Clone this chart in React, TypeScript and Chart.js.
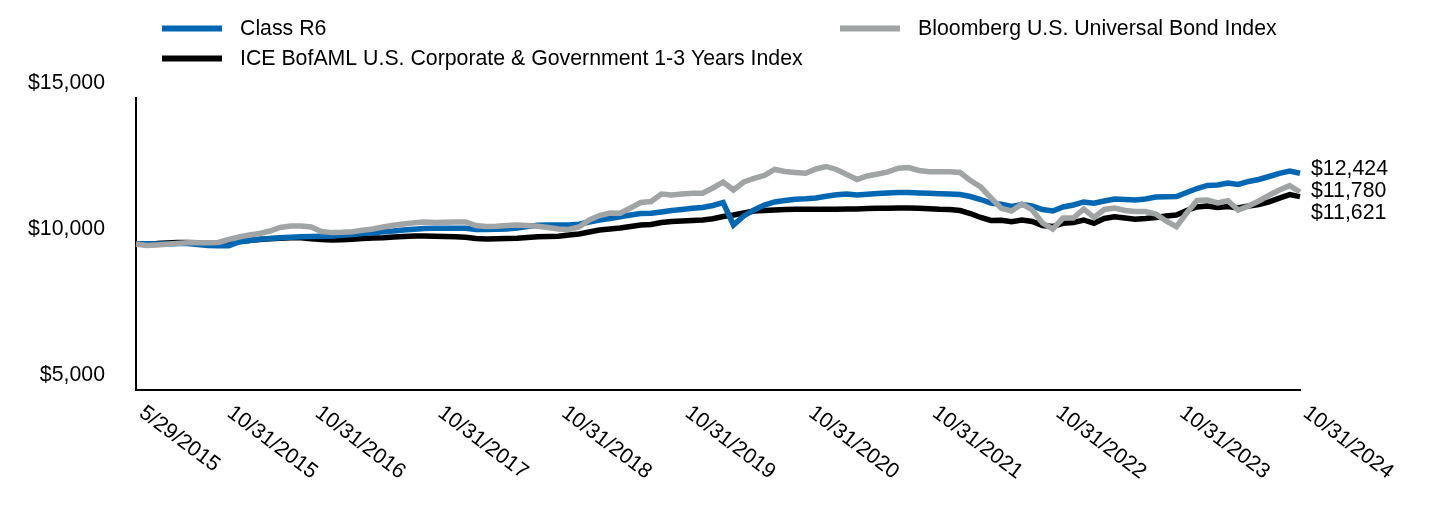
import React, { useEffect, useRef } from 'react';
import { Chart, registerables } from 'chart.js';

Chart.register(...registerables);

// ---------- DATA ----------
const firstCategory = '5/29/2015';
const categories: string[] = (() => {
  const out = [firstCategory];
  let y = 2015;
  let m = 6;
  while (y < 2024 || (y === 2024 && m <= 10)) {
    const last = new Date(y, m, 0).getDate();
    out.push(`${m}/${last}/${y}`);
    m++;
    if (m > 12) { m = 1; y++; }
  }
  return out;
})();

const xTickLabels = [
  '5/29/2015', '10/31/2015', '10/31/2016', '10/31/2017', '10/31/2018', '10/31/2019',
  '10/31/2020', '10/31/2021', '10/31/2022', '10/31/2023', '10/31/2024',
];

const yTickValues = [5000, 10000, 15000];

const classR6 = [
  10000, 10010, 10000, 10000, 10017, 10017, 9983, 9949, 9942, 9942,
  10069, 10120, 10161, 10188, 10212, 10233, 10247, 10257, 10267, 10274,
  10298, 10325, 10360, 10384, 10421, 10445, 10480, 10507, 10531, 10538,
  10538, 10538, 10538, 10497, 10497, 10503, 10514, 10548, 10599, 10640,
  10651, 10651, 10651, 10675, 10754, 10822, 10873, 10935, 10993, 11045,
  11051, 11096, 11147, 11182, 11223, 11250, 11319, 11421, 10651, 10959,
  11165, 11336, 11439, 11490, 11531, 11548, 11576, 11634, 11685, 11713,
  11678, 11706, 11730, 11747, 11764, 11764, 11747, 11737, 11723, 11713,
  11695, 11627, 11524, 11404, 11360, 11284, 11353, 11302, 11182, 11130,
  11267, 11336, 11439, 11394, 11473, 11541, 11524, 11507, 11541, 11610,
  11620, 11627, 11764, 11901, 12004, 12021, 12090, 12038, 12141, 12209,
  12312, 12420, 12500, 12424,
];

const iceIndex = [
  10000, 10010, 10017, 10034, 10051, 10051, 10045, 10034, 10045, 10069,
  10086, 10120, 10154, 10182, 10199, 10216, 10212, 10178, 10154, 10137,
  10144, 10164, 10188, 10206, 10216, 10240, 10257, 10274, 10274, 10264,
  10257, 10250, 10230, 10188, 10171, 10178, 10188, 10195, 10223, 10247,
  10257, 10267, 10308, 10343, 10411, 10480, 10514, 10548, 10599, 10651,
  10668, 10736, 10771, 10788, 10805, 10822, 10867, 10942, 10993, 11062,
  11130, 11147, 11165, 11182, 11189, 11189, 11189, 11192, 11192, 11199,
  11199, 11213, 11223, 11226, 11233, 11233, 11223, 11206, 11189, 11182,
  11147, 11045, 10908, 10805, 10812, 10764, 10822, 10771, 10634, 10599,
  10709, 10736, 10822, 10709, 10873, 10935, 10890, 10846, 10873, 10908,
  10959, 10993, 11147, 11267, 11302, 11250, 11284, 11233, 11302, 11353,
  11440, 11570, 11690, 11621,
];

const bloombergIndex = [
  10000, 9949, 9966, 9990, 10017, 10041, 10045, 10045, 10051, 10154,
  10240, 10308, 10360, 10445, 10565, 10617, 10617, 10582, 10430, 10390,
  10400, 10418, 10470, 10514, 10582, 10640, 10685, 10726, 10754, 10736,
  10743, 10754, 10754, 10634, 10599, 10606, 10634, 10651, 10634, 10606,
  10565, 10514, 10497, 10582, 10822, 10976, 11062, 11051, 11233, 11421,
  11456, 11713, 11678, 11713, 11737, 11737, 11918, 12124, 11850, 12124,
  12244, 12346, 12552, 12483, 12449, 12422, 12569, 12655, 12552, 12381,
  12210, 12330, 12398, 12467, 12593, 12620, 12518, 12477, 12477, 12477,
  12449, 12175, 11952, 11576, 11223, 11130, 11370, 11165, 10719, 10514,
  10890, 10890, 11199, 10908, 11182, 11233, 11147, 11113, 11113, 11028,
  10788, 10593, 11062, 11490, 11507, 11404, 11483, 11165, 11302, 11473,
  11670, 11850, 12000, 11780,
];

const seriesNames = [
  'Class R6',
  'ICE BofAML U.S. Corporate & Government 1-3 Years Index',
  'Bloomberg U.S. Universal Bond Index',
];

// ---------- STYLE ----------
const BLUE = '#0068B3';
const BLACK = '#000000';
const GRAY = '#A0A4A4';
const FONT_FAMILY = '"Liberation Sans", Arial, Helvetica, sans-serif';
const FONT_SIZE = 21.3;
const W = 1424;
const H = 500;

const fmt = (v: number) => '$' + v.toLocaleString('en-US');

const overlayPlugin = {
  id: 'overlay',
  afterDraw(chart: any) {
    const { ctx, chartArea } = chart;
    const xs = chart.scales.x;
    const ys = chart.scales.y;
    ctx.save();
    ctx.font = `${FONT_SIZE}px ${FONT_FAMILY}`;
    ctx.fillStyle = '#000';

    // Legend
    const legend = [
      { name: seriesNames[0], color: BLUE, x: 154, y: 20.5 },
      { name: seriesNames[1], color: BLACK, x: 154, y: 50.5 },
      { name: seriesNames[2], color: GRAY, x: 832, y: 20.5 },
    ];
    legend.forEach((it) => {
      ctx.strokeStyle = it.color;
      ctx.lineWidth = 6;
      ctx.lineCap = 'butt';
      ctx.beginPath();
      ctx.moveTo(it.x, it.y);
      ctx.lineTo(it.x + 60, it.y);
      ctx.stroke();
      ctx.textAlign = 'left';
      ctx.textBaseline = 'middle';
      ctx.fillText(it.name, it.x + 78, it.y + 0.5);
    });

    // X labels (rotated, text running down-right from tick)
    const angle = (37 * Math.PI) / 180;
    let prev = -Infinity;
    xTickLabels.forEach((lbl) => {
      const idx = categories.indexOf(lbl);
      const px = xs.getPixelForValue(idx);
      const ax = Math.max(px + 12, prev + 88);
      prev = ax;
      ctx.save();
      ctx.translate(ax, chartArea.bottom + 12);
      ctx.rotate(angle);
      ctx.textAlign = 'left';
      ctx.textBaseline = 'top';
      ctx.fillText(lbl, 0, 0);
      ctx.restore();
    });

    // End value labels
    const ends = [
      { v: classR6[classR6.length - 1] },
      { v: bloombergIndex[bloombergIndex.length - 1] },
      { v: iceIndex[iceIndex.length - 1] },
    ].map((e) => ({ ...e, y: ys.getPixelForValue(e.v) }));
    ends.sort((a, b) => a.y - b.y);
    const gap = 21.7;
    const mid = Math.floor(ends.length / 2);
    const midY = ends[mid].y - 1;
    ends.forEach((e, i) => {
      ctx.textAlign = 'left';
      ctx.textBaseline = 'middle';
      ctx.fillText(fmt(e.v), chartArea.right + 11, midY + (i - mid) * gap);
    });
    ctx.restore();
  },
};

export default function App() {
  const ref = useRef<HTMLCanvasElement>(null);
  useEffect(() => {
    const canvas = ref.current;
    if (!canvas) return;
    const lineDs = (label: string, data: number[], color: string, order: number) => ({
      label,
      data,
      borderColor: color,
      backgroundColor: color,
      borderWidth: 5.5,
      pointRadius: 0,
      tension: 0,
      fill: false,
      order,
    });
    const chart = new Chart(canvas, {
      type: 'line',
      data: {
        labels: categories,
        datasets: [
          lineDs(seriesNames[2], bloombergIndex, GRAY, 0),
          lineDs(seriesNames[0], classR6, BLUE, 1),
          lineDs(seriesNames[1], iceIndex, BLACK, 2),
        ],
      },
      options: {
        responsive: false,
        animation: false,
        devicePixelRatio: 1,
        layout: { padding: { left: 0, top: 90, right: W - 1292, bottom: H - 382 } },
        plugins: { legend: { display: false }, tooltip: { enabled: false } },
        scales: {
          x: {
            type: 'category',
            offset: false,
            grid: { display: false, drawTicks: false },
            border: { display: true, color: '#000', width: 2 },
            ticks: { display: false },
            afterFit: (s: any) => { s.height = 0; },
          },
          y: {
            min: 5000,
            max: 15000,
            grid: { display: false, drawTicks: false },
            border: { display: true, color: '#000', width: 2 },
            afterFit: (s: any) => { s.width = 128; },
            afterBuildTicks: (s: any) => { s.ticks = yTickValues.map((v) => ({ value: v })); },
            ticks: {
              padding: 31,
              labelOffset: -15,
              color: '#000',
              font: { family: FONT_FAMILY, size: FONT_SIZE },
              callback: (v: any) => fmt(Number(v)),
            },
          },
        },
      },
      plugins: [overlayPlugin],
    } as any);
    return () => chart.destroy();
  }, []);
  return (
    <div style={{ width: W, height: H }}>
      <canvas ref={ref} width={W} height={H} style={{ display: 'block', width: W, height: H }} />
    </div>
  );
}
